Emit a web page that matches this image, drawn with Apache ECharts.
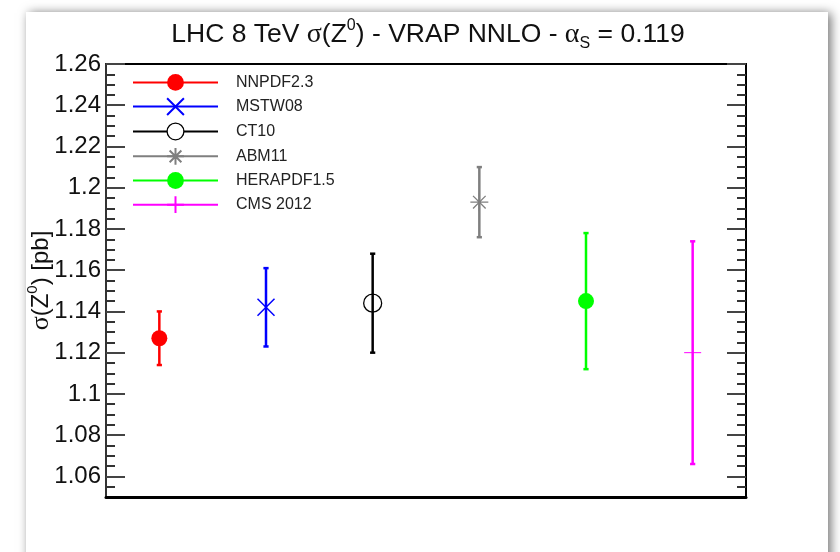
<!DOCTYPE html>
<html>
<head>
<meta charset="utf-8">
<script src="https://cdn.jsdelivr.net/npm/echarts@6/dist/echarts.min.js"></script>
<style>
  html, body { margin: 0; padding: 0; background: #fff; }
  #chart { width: 840px; height: 552px; }
</style>
</head>
<body>
<div id="chart"></div>
<script>
// Z0 cross sections at 8 TeV (pb), one entry per PDF set / measurement
const pdfSets = ['NNPDF2.3', 'MSTW08', 'CT10', 'ABM11', 'HERAPDF1.5', 'CMS 2012'];
const central = [1.127, 1.142, 1.144, 1.193, 1.145, 1.120];
const upper   = [1.140, 1.161, 1.168, 1.210, 1.178, 1.174];
const lower   = [1.114, 1.123, 1.120, 1.176, 1.112, 1.066];

// y axis tick labels
const majorTicks = [1.06, 1.08, 1.10, 1.12, 1.14, 1.16, 1.18, 1.20, 1.22, 1.24, 1.26];

// styling
const colors = ['#ff0000', '#0000ff', '#000000', '#7f7f7f', '#00ff00', '#ff00ff'];
const SANS = "'Liberation Sans', Arial, Helvetica, sans-serif";
const SERIF = "'Liberation Serif', 'Times New Roman', serif";

const yMin = 1.05, yMax = 1.26;
const minorTicks = [];
for (let k = 0; k <= 42; k++) {
  const v = +(yMin + k * 0.005).toFixed(3);
  if (!majorTicks.some(m => Math.abs(m - v) < 1e-9) && v > yMin && v < yMax) minorTicks.push(v);
}

const markerDefs = [
  { symbol: 'circle', size: 16, item: { color: colors[0] } },
  { symbol: 'path://M0,0L10,10M10,0L0,10', size: 17, item: { color: 'rgba(0,0,0,0)', borderColor: colors[1], borderWidth: 1.5 } },
  { symbol: 'circle', size: 18, item: { color: 'rgba(0,0,0,0)', borderColor: colors[2], borderWidth: 1.3 } },
  { symbol: 'path://M0,5L10,5M1.5,1.5L8.5,8.5M8.5,1.5L1.5,8.5M5,0L5,10', size: 18, item: { color: 'rgba(0,0,0,0)', borderColor: colors[3], borderWidth: 1.3 } },
  { symbol: 'circle', size: 16, item: { color: colors[4] } },
  { symbol: 'path://M0,5L10,5M5,0L5,10', size: 17, item: { color: 'rgba(0,0,0,0)', borderColor: colors[5], borderWidth: 1 } }
];

const gridRect = { left: 106, right: 94, top: 64, bottom: 55 };

const markerSeries = pdfSets.map((name, i) => ({
  name: name,
  type: 'line',
  xAxisIndex: 0,
  yAxisIndex: 0,
  data: [[i + 0.5, central[i]]],
  symbol: markerDefs[i].symbol,
  symbolSize: markerDefs[i].size,
  itemStyle: markerDefs[i].item,
  lineStyle: { color: colors[i], width: 2 },
  z: 4,
  silent: true,
  animation: false
}));

const errorSeries = {
  name: 'errors',
  type: 'custom',
  xAxisIndex: 0,
  yAxisIndex: 0,
  z: 2,
  silent: true,
  animation: false,
  encode: { x: 0, y: [1, 2] },
  data: pdfSets.map((n, i) => [i + 0.5, lower[i], upper[i], i]),
  renderItem: function (params, api) {
    const idx = api.value(3);
    const x = api.value(0);
    const top = api.coord([x, api.value(2)]);
    const bot = api.coord([x, api.value(1)]);
    const cap = 2.6;
    const style = { stroke: colors[idx], lineWidth: 2.5 };
    const children = [
      { type: 'line', shape: { x1: top[0], y1: top[1], x2: bot[0], y2: bot[1] }, style: style },
      { type: 'line', shape: { x1: top[0] - cap, y1: top[1], x2: top[0] + cap, y2: top[1] }, style: style },
      { type: 'line', shape: { x1: bot[0] - cap, y1: bot[1], x2: bot[0] + cap, y2: bot[1] }, style: style }
    ];
    return { type: 'group', children: children };
  }
};

const fmt = v => String(+(+v).toFixed(3));

const chart = echarts.init(document.getElementById('chart'), null, { renderer: 'canvas' });
chart.setOption({
  animation: false,
  backgroundColor: '#ffffff',
  graphic: [{
    type: 'rect',
    z: -10,
    silent: true,
    shape: { x: 26, y: 12, width: 802, height: 600 },
    style: { fill: '#ffffff', shadowBlur: 10, shadowColor: 'rgba(0,0,0,0.55)', shadowOffsetX: 3, shadowOffsetY: 1 }
  }],
  title: {
    left: 423,
    top: 13,
    textAlign: 'center',
    text: '{a|LHC 8 TeV }{g|σ}{a|(Z}{sup|0}{a|) - VRAP NNLO - }{g|α}{sub|S}{a| = 0.119}',
    textStyle: {
      fontWeight: 'normal',
      rich: {
        a: { fontFamily: SANS, fontSize: 26.5, fontWeight: 'normal', color: '#111', lineHeight: 34 },
        g: { fontFamily: SERIF, fontSize: 28, fontWeight: 'normal', color: '#111', lineHeight: 34 },
        sup: { fontFamily: SANS, fontSize: 16, fontWeight: 'normal', color: '#111', lineHeight: 22, verticalAlign: 'top' },
        sub: { fontFamily: SANS, fontSize: 16, fontWeight: 'normal', color: '#111', lineHeight: 20, verticalAlign: 'bottom' }
      }
    }
  },
  legend: {
    orient: 'vertical',
    left: 127,
    top: 69,
    itemWidth: 85,
    itemHeight: 21,
    itemGap: 6.4,
    selectedMode: false,
    data: pdfSets.map((n, i) => i === 2 ? { name: n, itemStyle: { color: '#fff', borderColor: '#000', borderWidth: 1.3 } } : { name: n }),
    textStyle: { fontFamily: SANS, fontSize: 16, color: '#222', padding: [0, 0, 0, 13] }
  },
  grid: [
    Object.assign({ show: true, borderColor: '#000', borderWidth: 2, backgroundColor: 'transparent' }, gridRect),
    Object.assign({ show: false }, gridRect)
  ],
  xAxis: [
    {
      gridIndex: 0, type: 'value', min: 0, max: 6,
      axisLine: { show: true, onZero: false, lineStyle: { color: '#000', width: 3 } },
      axisTick: { show: false }, axisLabel: { show: false }, splitLine: { show: false }
    },
    {
      gridIndex: 1, type: 'value', min: 0, max: 6, show: false
    }
  ],
  yAxis: [
    {
      gridIndex: 0, type: 'value', position: 'left', min: yMin, max: yMax,
      name: '{g|σ}{a|(Z}{sup|0}{a|) [pb]}',
      nameLocation: 'middle',
      nameRotate: 90,
      nameGap: 49,
      nameMoveOverlap: false,
      nameTextStyle: {
        rich: {
          a: { fontFamily: SANS, fontSize: 24, color: '#111', lineHeight: 32 },
          g: { fontFamily: SERIF, fontSize: 26, color: '#111', lineHeight: 32 },
          sup: { fontFamily: SANS, fontSize: 15, color: '#111', lineHeight: 20, verticalAlign: 'top' }
        }
      },
      axisLine: { show: true, lineStyle: { color: '#333', width: 2 } },
      axisTick: { show: true, inside: true, length: 19, customValues: majorTicks, lineStyle: { color: '#444', width: 2 } },
      axisLabel: { show: true, customValues: majorTicks, formatter: fmt, margin: 5, fontFamily: SANS, fontSize: 24, color: '#111' },
      splitLine: { show: false }
    },
    {
      gridIndex: 0, type: 'value', position: 'right', min: yMin, max: yMax,
      axisLine: { show: true, lineStyle: { color: '#000', width: 2 } },
      axisTick: { show: true, inside: true, length: 19, customValues: majorTicks, lineStyle: { color: '#444', width: 2 } },
      axisLabel: { show: false },
      splitLine: { show: false }
    },
    {
      gridIndex: 1, type: 'value', position: 'left', min: yMin, max: yMax,
      axisLine: { show: false },
      axisTick: { show: true, inside: true, length: 9, customValues: minorTicks, lineStyle: { color: '#333', width: 2 } },
      axisLabel: { show: false },
      splitLine: { show: false }
    },
    {
      gridIndex: 1, type: 'value', position: 'right', min: yMin, max: yMax,
      axisLine: { show: false },
      axisTick: { show: true, inside: true, length: 9, customValues: minorTicks, lineStyle: { color: '#333', width: 2 } },
      axisLabel: { show: false },
      splitLine: { show: false }
    }
  ],
  series: [errorSeries].concat(markerSeries)
});
</script>
</body>
</html>
